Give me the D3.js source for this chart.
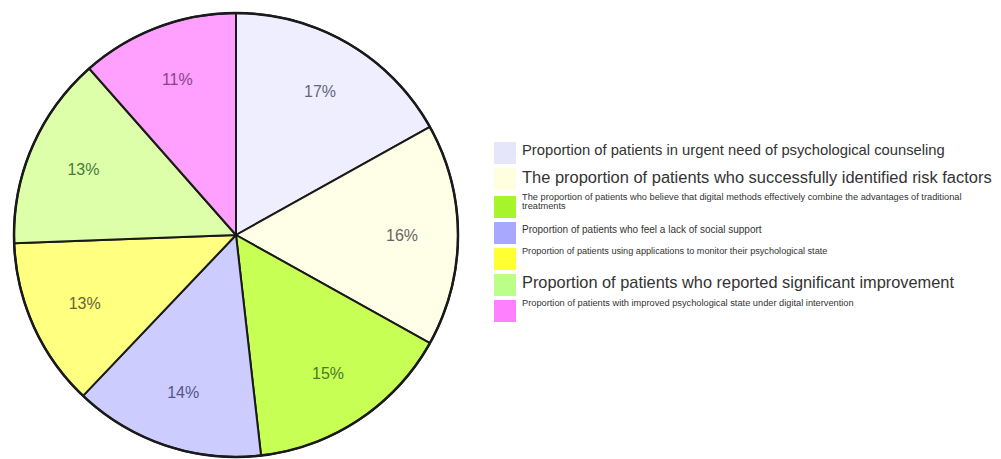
<!DOCTYPE html>
<html>
<head>
<meta charset="utf-8">
<script src="https://cdn.jsdelivr.net/npm/d3@7"></script>
<style>
  html, body { margin: 0; padding: 0; background: #ffffff; }
  svg { display: block; }
</style>
</head>
<body>
<svg id="chart" width="1001" height="459"></svg>
<script>
// ---- data ----
const categories = [
  "Proportion of patients in urgent need of psychological counseling",
  "The proportion of patients who successfully identified risk factors",
  "The proportion of patients who believe that digital methods effectively combine the advantages of traditional treatments",
  "Proportion of patients who feel a lack of social support",
  "Proportion of patients using applications to monitor their psychological state",
  "Proportion of patients who reported significant improvement",
  "Proportion of patients with improved psychological state under digital intervention"
];
const values = [16.9, 16.2, 15.1, 13.9, 12.3, 14.1, 11.5];
const percentLabels = ["17%", "16%", "15%", "14%", "13%", "13%", "11%"];
const sliceColors  = ["#eeeeff", "#ffffe8", "#c8ff55", "#ccccff", "#ffff80", "#ddffaa", "#ffa0ff"];
const legendColors = ["#e6e6fa", "#ffffe0", "#a6f52a", "#a8a8ff", "#ffff33", "#bbff88", "#ff80ff"];
const labelColors  = ["#66667a", "#666660", "#4a7a2a", "#55558a", "#666633", "#4a7a3a", "#884488"];

// legend text: target widths of the first line of each item
const legendWidth = [423, 470, 440, 240, 306, 432, 332];
const legendLines = [
  [categories[0]],
  [categories[1]],
  ["The proportion of patients who believe that digital methods effectively combine the advantages of traditional", "treatments"],
  [categories[3]],
  [categories[4]],
  [categories[5]],
  [categories[6]]
];
const legendTextY = [150, 176.5, 197, 229, 250.5, 281.5, 302.5];
const legendSwatchY = [142, 168, 196, 222, 248, 274, 300];

// ---- layout ----
const svg = d3.select("#chart");
const cx = 236, cy = 235, R = 222;

const pie = d3.pie().sort(null).value(d => d)
  .startAngle(0).endAngle(2 * Math.PI);
const arcs = pie(values);
const arc = d3.arc().innerRadius(0).outerRadius(R);
const labelArc = d3.arc().innerRadius(166).outerRadius(166);

const g = svg.append("g").attr("transform", `translate(${cx},${cy})`);

g.selectAll("path.slice")
  .data(arcs)
  .enter().append("path")
  .attr("class", "slice")
  .attr("d", arc)
  .attr("fill", (d, i) => sliceColors[i])
  .attr("stroke", "#1a1a1a")
  .attr("stroke-width", 2)
  .attr("stroke-linejoin", "round");

g.append("circle")
  .attr("r", R)
  .attr("fill", "none")
  .attr("stroke", "#1a1a1a")
  .attr("stroke-width", 2.5);

g.selectAll("text.pct")
  .data(arcs)
  .enter().append("text")
  .attr("class", "pct")
  .attr("transform", d => `translate(${labelArc.centroid(d)})`)
  .attr("text-anchor", "middle")
  .attr("dominant-baseline", "central")
  .attr("font-family", "'Liberation Sans', Arial, sans-serif")
  .attr("font-size", 16)
  .attr("fill", (d, i) => labelColors[i])
  .text((d, i) => percentLabels[i]);

// ---- legend ----
const leg = svg.append("g");
categories.forEach((c, i) => {
  leg.append("rect")
    .attr("x", 494).attr("y", legendSwatchY[i])
    .attr("width", 22).attr("height", 22)
    .attr("fill", legendColors[i]);
  const lines = legendLines[i];
  let fs = 10;
  lines.forEach((ln, j) => {
    const t = leg.append("text")
      .attr("x", 522)
      .attr("y", legendTextY[i] + j * 8.5)
      .attr("dominant-baseline", "central")
      .attr("font-family", "'Liberation Sans', Arial, sans-serif")
      .attr("font-size", fs)
      .attr("fill", "#333333")
      .text(ln);
    if (j === 0) {
      const len = t.node().getComputedTextLength();
      fs = 10 * legendWidth[i] / len;
      t.attr("font-size", fs);
    } else {
      t.attr("font-size", fs);
    }
  });
});
</script>
</body>
</html>
